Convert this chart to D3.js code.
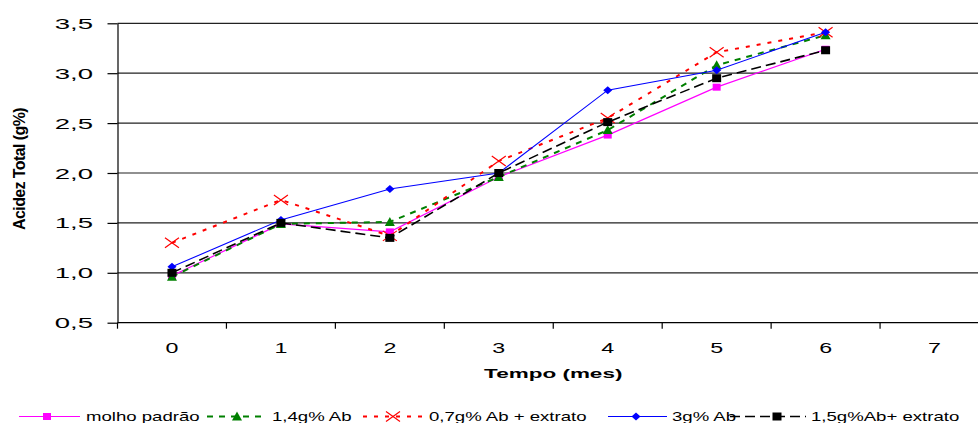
<!DOCTYPE html>
<html>
<head>
<meta charset="utf-8">
<script src="https://cdn.jsdelivr.net/npm/d3@7"></script>
<style>
  html, body { margin: 0; padding: 0; background: #fff; }
  svg { display: block; font-family: Arial, "Liberation Sans", sans-serif; }
</style>
</head>
<body>
<svg id="chart" width="978" height="423"></svg>
<script>
// Months of storage (x categories) and y tick values
const months = ["0", "1", "2", "3", "4", "5", "6", "7"];
const yTicks = [0.5, 1.0, 1.5, 2.0, 2.5, 3.0, 3.5];

// Total acidity (g%) per formulation, months 0..6
const molhoPadrao   = [0.97, 1.49, 1.41, 1.96, 2.38, 2.86, 3.24];
const ab14          = [0.96, 1.49, 1.51, 1.96, 2.43, 3.08, 3.38];
const ab07Extrato   = [1.30, 1.73, 1.37, 2.12, 2.55, 3.21, 3.41];
const ab3           = [1.06, 1.53, 1.84, 2.00, 2.83, 3.03, 3.41];
const ab15Extrato   = [1.00, 1.50, 1.35, 2.00, 2.51, 2.95, 3.23];

const seriesNames = ["molho padrão", "1,4g% Ab", "0,7g% Ab + extrato", "3g% Ab", "1,5g%Ab+ extrato"];

const series = [
  { name: seriesNames[0], values: molhoPadrao, color: "#ff00ff", width: 1.2, dash: null,   marker: "square" },
  { name: seriesNames[1], values: ab14,        color: "#008000", width: 2,   dash: "6,6",  marker: "triangle" },
  { name: seriesNames[2], values: ab07Extrato, color: "#ff0000", width: 2,   dash: "4,7",  marker: "cross" },
  { name: seriesNames[3], values: ab3,         color: "#0000ff", width: 1.1, dash: null,   marker: "diamond" },
  { name: seriesNames[4], values: ab15Extrato, color: "#000000", width: 1.6, dash: "10,5", marker: "blacksquare" }
];

const svg = d3.select("#chart");
const plotLeft = 117.5, plotRight = 989, plotTop = 23.3, plotBottom = 322.7;

const x = d3.scaleBand().domain(months).range([plotLeft, plotRight]).padding(0);
const y = d3.scaleLinear().domain([0.5, 3.5]).range([plotBottom, plotTop]);
const cx = d => x(d) + x.bandwidth() / 2;

// Horizontal gridlines
svg.append("g")
  .selectAll("line")
  .data(yTicks.filter(v => v > 0.5))
  .join("line")
  .attr("x1", plotLeft).attr("x2", plotRight)
  .attr("y1", d => y(d)).attr("y2", d => y(d))
  .attr("stroke", "#222").attr("stroke-width", 1.2);

// Y axis
const yAxis = svg.append("g")
  .attr("transform", `translate(${plotLeft},0)`)
  .call(d3.axisLeft(y).tickValues(yTicks).tickSize(10).tickSizeOuter(0)
    .tickFormat(d => d3.format(".1f")(d).replace(".", ",")));
yAxis.select(".domain").attr("stroke", "#000").attr("stroke-width", 1.2);
yAxis.selectAll(".tick line").attr("stroke", "#000").attr("stroke-width", 1.2);
yAxis.selectAll(".tick text")
  .attr("x", null).attr("dy", null)
  .attr("text-anchor", "end")
  .attr("font-size", 14.5)
  .attr("fill", "#000")
  .attr("transform", "translate(-24.5,5) scale(1.9,1)");

// X axis line, ticks between categories, and category labels
const xAxis = svg.append("g").attr("transform", `translate(0,${plotBottom})`);
xAxis.append("line").attr("x1", plotLeft).attr("x2", plotRight).attr("stroke", "#000").attr("stroke-width", 1.2);
xAxis.selectAll("line.tk")
  .data(months.concat(["end"]))
  .join("line")
  .attr("class", "tk")
  .attr("x1", (d, i) => plotLeft + i * x.step()).attr("x2", (d, i) => plotLeft + i * x.step())
  .attr("y1", 0).attr("y2", 6)
  .attr("stroke", "#000").attr("stroke-width", 1.2);
xAxis.selectAll("text")
  .data(months)
  .join("text")
  .attr("text-anchor", "middle")
  .attr("font-size", 15)
  .attr("fill", "#000")
  .attr("transform", d => `translate(${cx(d)},30) scale(1.55,1)`)
  .text(d => d);

// Axis titles
svg.append("text")
  .attr("text-anchor", "middle")
  .attr("font-size", 12.5).attr("font-weight", "bold")
  .attr("transform", `translate(${(plotLeft + plotRight) / 2},378.3) scale(1.8,1)`)
  .text("Tempo (mes)");

svg.append("text")
  .attr("text-anchor", "middle")
  .attr("font-size", 16).attr("font-weight", "bold")
  .attr("letter-spacing", -0.6)
  .attr("transform", "translate(25,169) rotate(-90)")
  .text("Acidez Total (g%)");

// Marker drawing
function drawMarker(g, type, color) {
  if (type === "square") {
    g.append("rect").attr("x", -4).attr("y", -3.5).attr("width", 8).attr("height", 7).attr("fill", color);
  } else if (type === "blacksquare") {
    g.append("rect").attr("x", -4.5).attr("y", -4).attr("width", 9).attr("height", 8).attr("fill", color);
  } else if (type === "triangle") {
    g.append("path").attr("d", "M0,-5 L5,4 L-5,4 Z").attr("fill", color);
  } else if (type === "diamond") {
    g.append("path").attr("d", "M0,-4 L4.5,0 L0,4 L-4.5,0 Z").attr("fill", color);
  } else if (type === "cross") {
    g.append("path").attr("d", "M-7,-5 L7,5 M-7,5 L7,-5").attr("stroke", color).attr("stroke-width", 1.2).attr("fill", "none");
  }
}

const line = d3.line().x((d, i) => cx(months[i])).y(d => y(d));

series.forEach(s => {
  const g = svg.append("g");
  g.append("path")
    .attr("d", line(s.values))
    .attr("fill", "none")
    .attr("stroke", s.color)
    .attr("stroke-width", s.width)
    .attr("stroke-dasharray", s.dash);
  g.selectAll("g.m")
    .data(s.values)
    .join("g")
    .attr("class", "m")
    .attr("transform", (d, i) => `translate(${cx(months[i])},${y(d)})`)
    .each(function () { drawMarker(d3.select(this), s.marker, s.color); });
});

// Legend
const legendItems = [
  { x1: 19,  x2: 80,  m: 47,  tx: 86 },
  { x1: 207, x2: 267, m: 237, tx: 272 },
  { x1: 363, x2: 424, m: 393, tx: 429 },
  { x1: 608, x2: 667, m: 636, tx: 672 },
  { x1: 730, x2: 806, m: 777, tx: 811 }
];
const legend = svg.append("g");
series.forEach((s, i) => {
  const p = legendItems[i];
  const g = legend.append("g");
  g.append("line")
    .attr("x1", p.x1).attr("x2", p.x2).attr("y1", 416.5).attr("y2", 416.5)
    .attr("stroke", s.color).attr("stroke-width", s.width)
    .attr("stroke-dasharray", s.dash);
  const mg = g.append("g").attr("transform", `translate(${p.m},416.5)`);
  drawMarker(mg, s.marker, s.color);
  g.append("text")
    .attr("font-size", 13)
    .attr("fill", "#000")
    .attr("transform", `translate(${p.tx},420.5) scale(1.43,1)`)
    .text(s.name);
});
</script>
</body>
</html>
